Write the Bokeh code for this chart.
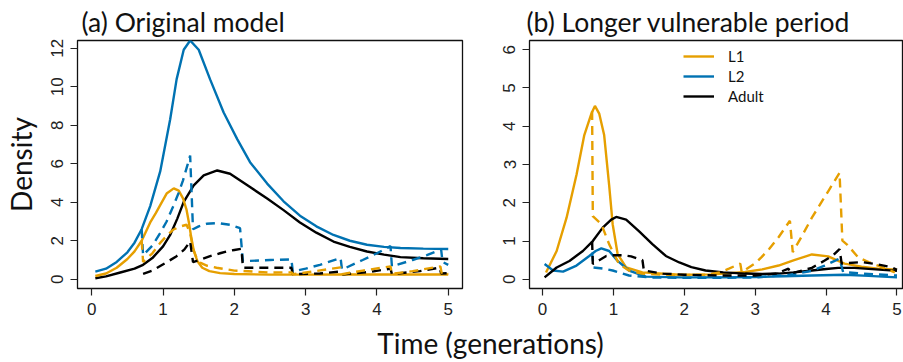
from bokeh.plotting import figure
from bokeh.models import Range1d, FixedTicker, Label, Legend, LegendItem
from bokeh.layouts import row, column
from bokeh.embed import file_html
from bokeh.resources import INLINE

ORANGE = "#E69F00"
BLUE = "#0072B2"
BLACK = "#000000"

X_TICKS = [0, 1, 2, 3, 4, 5]
A_Y_TICKS = [0, 2, 4, 6, 8, 10, 12]
B_Y_TICKS = [0, 1, 2, 3, 4, 5, 6]

# ---------------- Panel (a) Original model ----------------
a_l1_x = [0.05, 0.2, 0.35, 0.5, 0.6, 0.7, 0.82, 0.9, 0.96, 1.05, 1.15, 1.22, 1.28, 1.33, 1.36, 1.39, 1.43, 1.48, 1.55, 1.65, 1.8, 2.0, 2.5, 3.0, 3.5, 4.0, 4.5, 5.0]
a_l1_y = [0.17, 0.3, 0.6, 1.05, 1.45, 2.0, 2.95, 3.45, 3.85, 4.45, 4.72, 4.6, 4.2, 3.6, 3.0, 2.3, 1.5, 0.95, 0.6, 0.42, 0.32, 0.27, 0.24, 0.24, 0.25, 0.25, 0.25, 0.25]
a_l2_x = [0.05, 0.2, 0.35, 0.5, 0.6, 0.7, 0.82, 0.96, 1.1, 1.19, 1.29, 1.38, 1.5, 1.66, 1.85, 2.04, 2.22, 2.46, 2.69, 2.92, 3.15, 3.39, 3.62, 3.86, 4.1, 4.33, 4.65, 5.0]
a_l2_y = [0.4, 0.55, 0.9, 1.4, 1.9, 2.6, 3.8, 5.6, 8.31, 10.38, 11.92, 12.4, 11.92, 10.38, 8.66, 7.28, 6.08, 4.97, 4.05, 3.3, 2.75, 2.3, 2.0, 1.79, 1.68, 1.62, 1.59, 1.57]
a_ad_x = [0.05, 0.2, 0.4, 0.6, 0.72, 0.85, 1.0, 1.1, 1.2, 1.29, 1.43, 1.57, 1.76, 1.94, 2.22, 2.46, 2.69, 2.92, 3.15, 3.39, 3.62, 3.86, 4.1, 4.33, 4.65, 5.0]
a_ad_y = [0.05, 0.15, 0.35, 0.55, 0.75, 1.1, 1.71, 2.3, 3.15, 4.02, 4.88, 5.39, 5.65, 5.48, 4.79, 4.19, 3.59, 2.95, 2.42, 1.96, 1.68, 1.44, 1.28, 1.15, 1.09, 1.05]

a_l1d_x = [0.70, 0.72, 0.85, 0.96, 1.05, 1.14, 1.25, 1.33, 1.38, 1.42, 1.47, 1.52, 1.62, 1.75, 2.0, 2.13, 2.5, 2.8, 2.82, 3.1, 3.49, 3.51, 3.8, 4.19, 4.21, 4.5, 4.89, 4.91, 5.0]
a_l1d_y = [2.0, 0.9, 1.35, 1.89, 2.25, 2.57, 2.75, 2.83, 2.4, 1.6, 1.1, 0.86, 0.7, 0.6, 0.45, 0.43, 0.35, 0.36, 0.26, 0.4, 0.62, 0.26, 0.45, 0.67, 0.28, 0.42, 0.67, 0.28, 0.28]
a_l2d_x = [0.70, 0.72, 0.85, 0.96, 1.05, 1.14, 1.22, 1.28, 1.34, 1.38, 1.42, 1.5, 1.61, 1.76, 1.95, 2.08, 2.12, 2.5, 2.8, 2.82, 3.0, 3.2, 3.49, 3.51, 3.8, 4.0, 4.19, 4.21, 4.5, 4.7, 4.9, 4.92, 5.0]
a_l2d_y = [2.6, 1.25, 1.75, 2.4, 3.0, 3.77, 4.5, 5.14, 5.9, 6.42, 2.6, 2.75, 2.88, 2.92, 2.82, 2.65, 0.94, 1.0, 1.03, 0.4, 0.55, 0.75, 1.1, 0.5, 1.0, 1.35, 1.72, 0.67, 1.0, 1.25, 1.55, 0.9, 0.75]
a_add_x = [0.72, 0.85, 0.96, 1.08, 1.19, 1.3, 1.38, 1.42, 1.55, 1.66, 1.8, 1.9, 2.0, 2.1, 2.12, 2.5, 2.8, 2.82, 3.2, 3.49, 3.51, 3.9, 4.19, 4.21, 4.6, 4.88, 4.9, 5.0]
a_add_y = [0.28, 0.45, 0.69, 0.95, 1.2, 1.55, 1.97, 0.89, 1.05, 1.2, 1.35, 1.45, 1.52, 1.58, 0.6, 0.6, 0.6, 0.26, 0.3, 0.4, 0.25, 0.38, 0.55, 0.27, 0.42, 0.6, 0.3, 0.32]

# ---------------- Panel (b) Longer vulnerable period ----------------
b_l1_x = [0.05, 0.2, 0.34, 0.48, 0.59, 0.69, 0.74, 0.8, 0.87, 0.94, 0.99, 1.06, 1.18, 1.41, 1.93, 2.4, 2.86, 3.1, 3.33, 3.55, 3.8, 4.03, 4.26, 4.5, 4.73, 5.0]
b_l1_y = [0.18, 0.74, 1.61, 2.73, 3.77, 4.33, 4.53, 4.33, 3.77, 2.47, 1.44, 0.66, 0.31, 0.18, 0.12, 0.13, 0.19, 0.26, 0.36, 0.5, 0.65, 0.6, 0.41, 0.33, 0.28, 0.25]
b_l2_x = [0.03, 0.15, 0.29, 0.48, 0.66, 0.75, 0.83, 0.94, 1.06, 1.22, 1.46, 1.93, 2.5, 3.0, 3.4, 3.8, 4.26, 4.6, 5.0]
b_l2_y = [0.4, 0.23, 0.2, 0.36, 0.61, 0.74, 0.81, 0.74, 0.48, 0.23, 0.07, 0.05, 0.05, 0.06, 0.08, 0.1, 0.12, 0.09, 0.05]
b_ad_x = [0.03, 0.2, 0.38, 0.57, 0.71, 0.85, 0.97, 1.04, 1.18, 1.36, 1.55, 1.74, 1.93, 2.1, 2.3, 2.55, 2.86, 3.1, 3.33, 3.55, 3.8, 4.0, 4.17, 4.4, 4.7, 5.0]
b_ad_y = [0.05, 0.31, 0.48, 0.74, 1.0, 1.35, 1.56, 1.63, 1.56, 1.26, 0.92, 0.61, 0.44, 0.32, 0.23, 0.18, 0.15, 0.14, 0.15, 0.18, 0.23, 0.27, 0.3, 0.3, 0.26, 0.22]

b_l1d_x = [0.70, 0.71, 0.83, 0.94, 1.08, 1.22, 1.4, 1.7, 2.0, 2.3, 2.5, 2.63, 2.79, 2.81, 3.0, 3.09, 3.2, 3.33, 3.49, 3.53, 3.65, 3.8, 4.03, 4.19, 4.23, 4.3, 4.45, 4.6, 4.73, 4.97]
b_l1d_y = [4.4, 1.65, 1.44, 0.92, 0.4, 0.23, 0.15, 0.12, 0.11, 0.12, 0.18, 0.28, 0.41, 0.19, 0.42, 0.58, 0.8, 1.1, 1.53, 0.71, 1.1, 1.61, 2.3, 2.78, 1.01, 0.9, 0.58, 0.45, 0.36, 0.18]
b_l2d_x = [0.70, 0.72, 0.85, 0.99, 1.22, 1.5, 2.0, 2.5, 3.0, 3.5, 3.8, 3.98, 4.19, 4.24, 4.5, 5.0]
b_l2d_y = [0.7, 0.31, 0.28, 0.23, 0.1, 0.05, 0.04, 0.04, 0.05, 0.12, 0.22, 0.36, 0.54, 0.19, 0.15, 0.1]
b_add_x = [0.70, 0.71, 0.8, 0.9, 1.0, 1.13, 1.25, 1.36, 1.41, 1.43, 1.7, 2.0, 2.5, 2.8, 3.0, 3.3, 3.47, 3.5, 3.8, 3.98, 4.1, 4.19, 4.22, 4.5, 4.7, 4.92, 5.0]
b_add_y = [1.0, 0.4, 0.5, 0.61, 0.63, 0.63, 0.6, 0.53, 0.5, 0.23, 0.15, 0.12, 0.1, 0.1, 0.1, 0.15, 0.28, 0.15, 0.3, 0.49, 0.63, 0.79, 0.41, 0.45, 0.4, 0.32, 0.25]

TITLE_FONT = "Lato"
TICK_FONT = "Liberation Sans"
TEXT_COLOR = "#111111"
LW = 2.4
DASH = "9 6"
PANEL_H = 324


def make_panel(width, bl, br, bt, bb, xr, yr, yticks, title, title_offset):
    p = figure(width=width, height=PANEL_H, x_range=Range1d(*xr), y_range=Range1d(*yr),
               output_backend="svg", toolbar_location=None,
               min_border_left=bl, min_border_right=br, min_border_top=bt, min_border_bottom=bb)
    p.outline_line_color = TEXT_COLOR
    p.outline_line_width = 1.3
    p.grid.visible = False
    p.xaxis.ticker = FixedTicker(ticks=X_TICKS)
    p.yaxis.ticker = FixedTicker(ticks=yticks)
    for ax in (p.xaxis[0], p.yaxis[0]):
        ax.major_tick_out = 7
        ax.major_tick_in = 0
        ax.minor_tick_out = 0
        ax.minor_tick_in = 0
        ax.major_tick_line_color = "#222222"
        ax.major_tick_line_width = 1.2
        ax.axis_line_color = None
        ax.major_label_text_font = TICK_FONT
        ax.major_label_text_font_size = "17px"
        ax.major_label_text_color = "#222222"
        ax.major_label_standoff = 7
    p.yaxis.major_label_orientation = "vertical"
    p.title.text = title
    p.title.align = "left"
    p.title.offset = title_offset
    p.title.standoff = 6
    p.title.text_font = TITLE_FONT
    p.title.text_font_size = "26.5px"
    p.title.text_font_style = "normal"
    p.title.text_color = TEXT_COLOR
    return p


# Panel (a)
pa = make_panel(470, 77, 8, 39, PANEL_H - 39 - 250, (-0.2, 5.2), (-0.48, 12.4), A_Y_TICKS,
                "(a) Original model", 4)
pa.yaxis.axis_label = "Density"
pa.yaxis.axis_label_text_font = TITLE_FONT
pa.yaxis.axis_label_text_font_size = "28px"
pa.yaxis.axis_label_text_font_style = "normal"
pa.yaxis.axis_label_text_color = TEXT_COLOR
pa.yaxis.axis_label_standoff = 11
pa.line(a_l2_x, a_l2_y, line_color=BLUE, line_width=LW)
pa.line(a_ad_x, a_ad_y, line_color=BLACK, line_width=LW)
pa.line(a_l1_x, a_l1_y, line_color=ORANGE, line_width=LW)
pa.line(a_l2d_x, a_l2d_y, line_color=BLUE, line_width=LW, line_dash=DASH)
pa.line(a_add_x, a_add_y, line_color=BLACK, line_width=LW, line_dash=DASH)
pa.line(a_l1d_x, a_l1d_y, line_color=ORANGE, line_width=LW, line_dash=DASH)

# Panel (b)
pb = make_panel(433, 59, 0, 38, PANEL_H - 38 - 250, (-0.183, 5.092), (-0.24, 6.24), B_Y_TICKS,
                "(b) Longer vulnerable period", -3)
r1 = pb.line(b_l1_x, b_l1_y, line_color=ORANGE, line_width=LW)
r2 = pb.line(b_l2_x, b_l2_y, line_color=BLUE, line_width=LW)
r3 = pb.line(b_ad_x, b_ad_y, line_color=BLACK, line_width=LW)
pb.line(b_l1d_x, b_l1d_y, line_color=ORANGE, line_width=LW, line_dash=DASH)
pb.line(b_l2d_x, b_l2d_y, line_color=BLUE, line_width=LW, line_dash=DASH)
pb.line(b_add_x, b_add_y, line_color=BLACK, line_width=LW, line_dash=DASH)
legend = Legend(items=[LegendItem(label="L1", renderers=[r1]),
                       LegendItem(label="L2", renderers=[r2]),
                       LegendItem(label="Adult", renderers=[r3])],
                location=(154, 182), padding=0, margin=0, spacing=0,
                glyph_width=31, glyph_height=20, label_height=20, label_standoff=14,
                border_line_color=None, background_fill_alpha=0,
                label_text_font=TITLE_FONT, label_text_font_size="15px", label_text_color=TEXT_COLOR)
pb.add_layout(legend)

# Shared x-axis label
LABEL_H = 362 - PANEL_H
pl = figure(width=903, height=LABEL_H, x_range=Range1d(0, 903), y_range=Range1d(0, LABEL_H),
            output_backend="svg", toolbar_location=None, min_border=0, title=None)
pl.axis.visible = False
pl.grid.visible = False
pl.outline_line_color = None
pl.add_layout(Label(x=490, y=20, text="Time (generations)", text_font=TITLE_FONT,
                    text_font_size="28px", text_color=TEXT_COLOR, text_align="center",
                    text_baseline="alphabetic"))

layout = column(row(pa, pb, spacing=0), pl, spacing=0)
open("out.html", "w").write(file_html(layout, INLINE))
